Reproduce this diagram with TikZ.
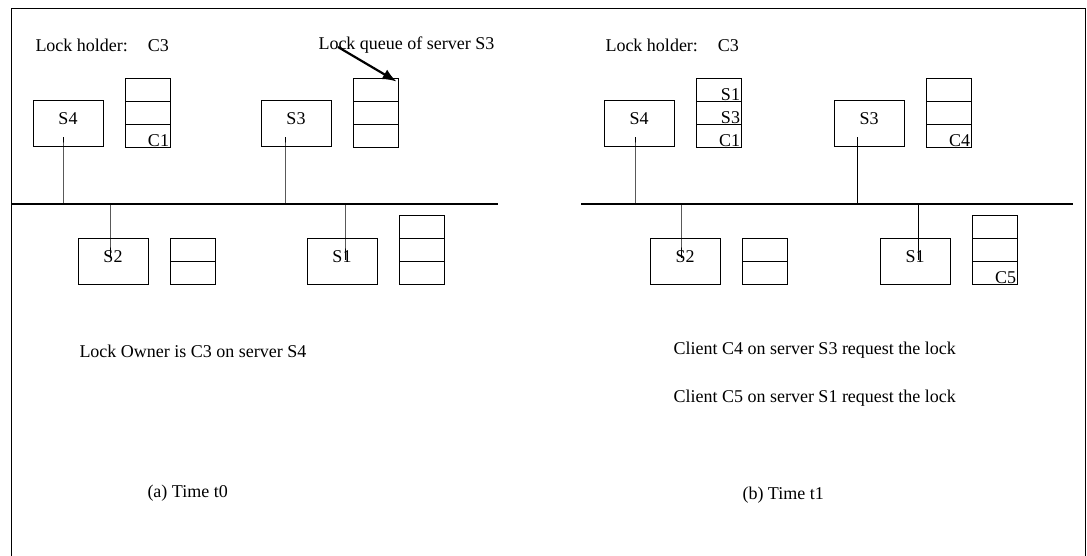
\documentclass[tikz,border=0pt]{standalone}
\usepackage{fontspec}
\setmainfont{Liberation Serif}
\usetikzlibrary{arrows.meta}
\usetikzlibrary{positioning}
\tikzset{
  server/.style={rectangle, draw, minimum width=35pt, minimum height=23pt, inner sep=0pt, text height=6pt, text depth=5pt},
  cell/.style={rectangle, draw, minimum width=22.5pt, minimum height=11.5pt, inner sep=0pt, outer sep=0pt},
  entry/.style={anchor=south east, inner xsep=0.5pt, inner ysep=0pt},
  caption/.style={anchor=west, inner sep=0pt},
  bus/.style={draw, line width=0.7pt},
  arrow/.style={draw, -{Latex[length=7pt, width=5.5pt]}, line width=1.1pt}
  }

\begin{document}
\begin{tikzpicture}[x=0.5pt, y=-0.5pt, line width=0.5pt, font=\fontsize{9}{11}\selectfont]
	\useasboundingbox (0,0) rectangle (1087,556);
	% Frame
	\draw (11,556) -- (11,9) -- (1085,9) -- (1085,556);

	% (a) Time t0
	\node[caption] (holdera) at (35,45) {Lock holder:\hspace{10pt}C3};
	\node[caption] (queuetext) at (318,45) {Lock queue of server S3};
	\node[server] (s4a) at (68,124) {S4};
	\node[server] (s3a) at (296,124) {S3};
	\node[server] (s2a) at (113,261) {S2};
	\node[server] (s1a) at (342,261) {S1};

	\node[cell, right=11pt of s4a.south east, anchor=south west] (qa4bot) {};
	\node[cell, above=0pt of qa4bot] (qa4mid) {};
	\node[cell, above=0pt of qa4mid] (qa4top) {};
	\node[cell, right=11pt of s3a.south east, anchor=south west] (qa3bot) {};
	\node[cell, above=0pt of qa3bot] (qa3mid) {};
	\node[cell, above=0pt of qa3mid] (qa3top) {};
	\node[cell, right=11pt of s2a.south east, anchor=south west] (qa2bot) {};
	\node[cell, above=0pt of qa2bot] (qa2top) {};
	\node[cell, right=11pt of s1a.south east, anchor=south west] (qa1bot) {};
	\node[cell, above=0pt of qa1bot] (qa1mid) {};
	\node[cell, above=0pt of qa1mid] (qa1top) {};
	\node[entry] at (qa4bot.south east) {C1};

	\node[caption] (ownera) at (79,351) {Lock Owner is C3 on server S4};
	\node[caption] (timea) at (147,493) {(a) Time t0};

	% Bus
	\coordinate (busa1) at (11,204);
	\coordinate (busa2) at (498,204);
	\coordinate (tapa4) at (63,204);
	\coordinate (tapa3) at (285,204);
	\coordinate (tapa2) at (110,204);
	\coordinate (tapa1) at (345,204);
	\draw[bus] (busa1) -- (busa2);
	\draw (tapa4) -- (tapa4 |- s4a.south) -- ++(0,-10);
	\draw (tapa3) -- (tapa3 |- s3a.south) -- ++(0,-10);
	\draw (tapa2) -- (tapa2 |- s2a.north) -- ++(0,20);
	\draw (tapa1) -- (tapa1 |- s1a.north) -- ++(0,22);

	% Arrow
	\draw[arrow] ([xshift=10pt,yshift=-1pt]queuetext.west) -- ([xshift=-1pt,yshift=-1.5pt]qa3top.north east);

	% (b) Time t1
	\node[caption] (holderb) at (605,45) {Lock holder:\hspace{10pt}C3};
	\node[server] (s4b) at (639,124) {S4};
	\node[server] (s3b) at (869,124) {S3};
	\node[server] (s2b) at (685,261) {S2};
	\node[server] (s1b) at (915,261) {S1};

	\node[cell, right=11pt of s4b.south east, anchor=south west] (qb4bot) {};
	\node[cell, above=0pt of qb4bot] (qb4mid) {};
	\node[cell, above=0pt of qb4mid] (qb4top) {};
	\node[cell, right=11pt of s3b.south east, anchor=south west] (qb3bot) {};
	\node[cell, above=0pt of qb3bot] (qb3mid) {};
	\node[cell, above=0pt of qb3mid] (qb3top) {};
	\node[cell, right=11pt of s2b.south east, anchor=south west] (qb2bot) {};
	\node[cell, above=0pt of qb2bot] (qb2top) {};
	\node[cell, right=11pt of s1b.south east, anchor=south west] (qb1bot) {};
	\node[cell, above=0pt of qb1bot] (qb1mid) {};
	\node[cell, above=0pt of qb1mid] (qb1top) {};
	\node[entry] at (qb4top.south east) {S1};
	\node[entry] at (qb4mid.south east) {S3};
	\node[entry] at (qb4bot.south east) {C1};
	\node[entry] at (qb3bot.south east) {C4};
	\node[entry] at (qb1bot.south east) {C5};

	\node[caption] (requestc4) at (673,350) {Client C4 on server S3 request the lock};
	\node[caption] (requestc5) at (673,398) {Client C5 on server S1 request the lock};
	\node[caption] (timeb) at (742,495) {(b) Time t1};

	% Bus
	\coordinate (busb1) at (581,204);
	\coordinate (busb2) at (1073,204);
	\coordinate (tapb4) at (635,204);
	\coordinate (tapb3) at (857,204);
	\coordinate (tapb2) at (681,204);
	\coordinate (tapb1) at (918,204);
	\draw[bus] (busb1) -- (busb2);
	\draw (tapb4) -- (tapb4 |- s4b.south) -- ++(0,-10);
	\draw (tapb3) -- (tapb3 |- s3b.south) -- ++(0,-10);
	\draw (tapb2) -- (tapb2 |- s2b.north) -- ++(0,20);
	\draw (tapb1) -- (tapb1 |- s1b.north) -- ++(0,22);
\end{tikzpicture}
\end{document}
